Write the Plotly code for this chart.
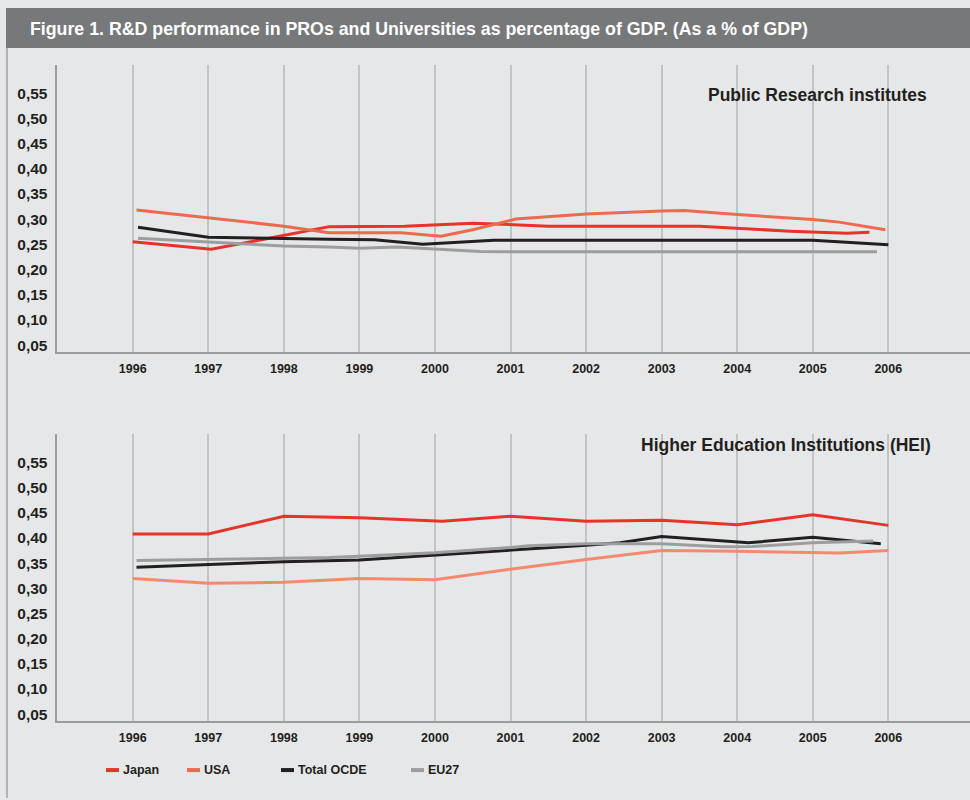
import plotly.graph_objects as go

# ---------------- data ----------------
series_names = ["Japan", "USA", "Total OCDE", "EU27"]
series_colors = ["#e6342a", "#ec6a4e", "#231f20", "#9d9d9f"]
hei_usa_color = "#f38a6e"

year_ticks = [1996, 1997, 1998, 1999, 2000, 2001, 2002, 2003, 2004, 2005, 2006]
year_labels = [str(y) for y in year_ticks]
y_ticks = [0.05, 0.10, 0.15, 0.20, 0.25, 0.30, 0.35, 0.40, 0.45, 0.50, 0.55]
y_labels = ["0,05", "0,10", "0,15", "0,20", "0,25", "0,30", "0,35", "0,40", "0,45", "0,50", "0,55"]

# Public Research institutes
japan_pro_x = [1996, 1997.04, 1998.6, 1999.6, 2000.5, 2001.5, 2003.5, 2004.7, 2005.45, 2005.75]
japan_pro_y = [0.255, 0.240, 0.285, 0.286, 0.292, 0.286, 0.286, 0.276, 0.272, 0.274]
usa_pro_x = [1996.05, 1997, 1998, 1998.6, 1999.55, 2000.08, 2000.5, 2001.07, 2002, 2003, 2003.3, 2004, 2005, 2005.35, 2005.96]
usa_pro_y = [0.318, 0.302, 0.286, 0.273, 0.273, 0.266, 0.279, 0.300, 0.310, 0.316, 0.317, 0.309, 0.299, 0.294, 0.279]
oecd_pro_x = [1996.07, 1997, 1998.6, 1999.2, 1999.84, 2000.78, 2005, 2006]
oecd_pro_y = [0.284, 0.264, 0.260, 0.259, 0.250, 0.258, 0.258, 0.249]
eu_pro_x = [1996.07, 1997, 1998, 1998.6, 1999, 1999.5, 2000.6, 2005.85]
eu_pro_y = [0.262, 0.2545, 0.2467, 0.2447, 0.2422, 0.2447, 0.2355, 0.235]

# Higher Education Institutions
japan_hei_x = [1996, 1997, 1998, 1999, 2000.1, 2001, 2002, 2003, 2004, 2005, 2006]
japan_hei_y = [0.408, 0.408, 0.443, 0.440, 0.433, 0.443, 0.433, 0.435, 0.426, 0.446, 0.425]
usa_hei_x = [1996, 1997, 1998, 1999, 2000, 2001, 2002, 2003, 2004, 2005, 2005.35, 2006]
usa_hei_y = [0.3195, 0.310, 0.312, 0.3195, 0.317, 0.338, 0.357, 0.375, 0.3736, 0.3717, 0.370, 0.375]
oecd_hei_x = [1996.05, 1997, 1998, 1999, 2000, 2001, 2002, 2002.45, 2003, 2004.15, 2005, 2005.9]
oecd_hei_y = [0.342, 0.3477, 0.3528, 0.356, 0.3655, 0.375, 0.3855, 0.3906, 0.403, 0.3906, 0.4013, 0.3887]
eu_hei_x = [1996.05, 1997, 1998.6, 1999, 2000, 2001, 2001.25, 2002, 2003, 2003.8, 2004.2, 2005, 2005.8]
eu_hei_y = [0.3553, 0.3572, 0.361, 0.3636, 0.3704, 0.381, 0.3843, 0.3887, 0.3887, 0.3824, 0.383, 0.3906, 0.3937]

title_text = "Figure 1. R&D performance in PROs and Universities as percentage of GDP. (As a % of GDP)"
panel_titles = ["Public Research institutes", "Higher Education Institutions (HEI)"]

# ---------------- layout helpers ----------------
W, H = 970, 800
FONT = "Liberation Sans, Arial, Helvetica, sans-serif"
BG = "#e6e7e8"
TXT = "#231f20"


def px(x):
    return x / W


def py(y):
    return 1 - y / H


fig = go.Figure()

pro = [(japan_pro_x, japan_pro_y), (usa_pro_x, usa_pro_y), (oecd_pro_x, oecd_pro_y), (eu_pro_x, eu_pro_y)]
hei = [(japan_hei_x, japan_hei_y), (usa_hei_x, usa_hei_y), (oecd_hei_x, oecd_hei_y), (eu_hei_x, eu_hei_y)]

for i, (xs, ys) in enumerate(pro):
    fig.add_trace(go.Scatter(x=xs, y=ys, mode="lines", name=series_names[i],
                             line=dict(color=series_colors[i], width=3),
                             xaxis="x", yaxis="y", showlegend=False))
for i, (xs, ys) in enumerate(hei):
    col = hei_usa_color if i == 1 else series_colors[i]
    fig.add_trace(go.Scatter(x=xs, y=ys, mode="lines", name=series_names[i],
                             line=dict(color=col, width=3),
                             xaxis="x2", yaxis="y2", showlegend=False))

x_range = [1995.002, 2007.081]
y_range = [0.0367, 0.6066]

xaxis_common = dict(range=x_range, domain=[px(57.3), 1.0], tickvals=year_ticks, ticktext=year_labels,
                    showgrid=True, gridcolor="#c2c3c5", gridwidth=1.5, showline=True,
                    linecolor="#9c9c9e", linewidth=1.5, zeroline=False, ticks="",
                    tickfont=dict(family=FONT, size=12.5, color=TXT, weight="bold"),
                    ticklabelstandoff=4, fixedrange=True)
yaxis_common = dict(range=y_range, tickvals=y_ticks, ticktext=y_labels, showgrid=False,
                    showline=True, linecolor="#9c9c9e", linewidth=1.5, zeroline=False, ticks="",
                    tickfont=dict(family=FONT, size=15.5, color=TXT, weight="bold"),
                    ticklabelstandoff=5, fixedrange=True)

fig.update_layout(
    width=W, height=H,
    margin=dict(l=0, r=0, t=0, b=0),
    paper_bgcolor=BG, plot_bgcolor=BG,
    xaxis=dict(xaxis_common, anchor="y"),
    yaxis=dict(yaxis_common, domain=[py(352.7), py(64.7)], anchor="x"),
    xaxis2=dict(xaxis_common, anchor="y2"),
    yaxis2=dict(yaxis_common, domain=[py(722.7), py(435)], anchor="x2"),
    showlegend=False,
)

shapes = []
# header bar
shapes.append(dict(type="rect", xref="paper", yref="paper", x0=px(6), x1=1.0, y0=py(48), y1=py(8),
                   fillcolor="#77787a", line=dict(width=0), layer="below"))
# left border line
shapes.append(dict(type="line", xref="paper", yref="paper", x0=px(7), x1=px(7), y0=py(48), y1=0,
                   line=dict(color="#a2a2a4", width=1.5)))

annotations = []
annotations.append(dict(text=title_text, xref="paper", yref="paper", x=px(28), y=py(29),
                        xanchor="left", yanchor="middle", showarrow=False,
                        font=dict(family=FONT, size=17.75, color="white", weight="bold")))
annotations.append(dict(text=panel_titles[0], xref="paper", yref="paper", x=px(929), y=py(95),
                        xanchor="right", yanchor="middle", showarrow=False,
                        font=dict(family=FONT, size=17.5, color=TXT, weight="bold")))
annotations.append(dict(text=panel_titles[1], xref="paper", yref="paper", x=px(933), y=py(446),
                        xanchor="right", yanchor="middle", showarrow=False,
                        font=dict(family=FONT, size=17.5, color=TXT, weight="bold")))

# legend (manual)
legend_x = [106, 187, 281, 411]
legend_y = 772
for i, name in enumerate(series_names):
    shapes.append(dict(type="line", xref="paper", yref="paper", x0=px(legend_x[i]), x1=px(legend_x[i] + 13),
                       y0=py(legend_y), y1=py(legend_y), line=dict(color=series_colors[i], width=4)))
    annotations.append(dict(text=name, xref="paper", yref="paper", x=px(legend_x[i] + 15), y=py(legend_y),
                            xanchor="left", yanchor="middle", showarrow=False,
                            font=dict(family=FONT, size=12.5, color=TXT, weight="bold")))

fig.update_layout(shapes=shapes, annotations=annotations)

fig.write_html(
    "out.html",
    config={"displayModeBar": False},
    post_script="document.body.style.margin='0';document.body.style.overflow='hidden';"
                "document.body.style.background='#e6e7e8';",
)
